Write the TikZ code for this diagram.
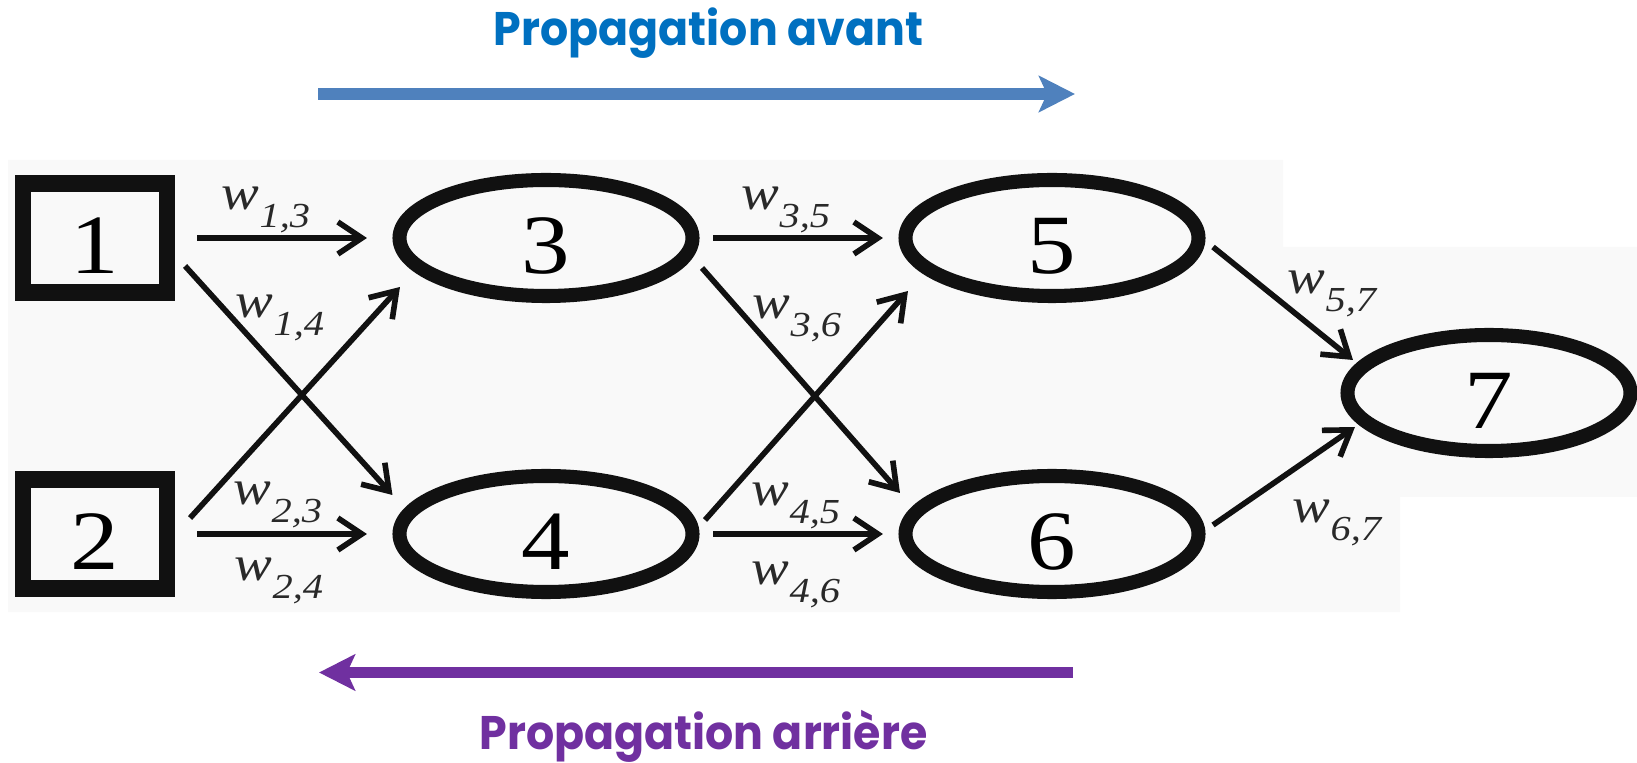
\documentclass[tikz,border=0pt]{standalone}
\usepackage{fontspec}
\usepackage{tikz}
\usetikzlibrary{arrows.meta,shapes.geometric}

\newfontfamily\netfont{Liberation Serif}[FakeStretch=1.15]
\newfontfamily\titlefont{Poppins}[FakeStretch=0.94]

\definecolor{fwdtext}{HTML}{0070C0}
\definecolor{fwdarrow}{HTML}{4F81BD}
\definecolor{backtext}{HTML}{7030A0}
\definecolor{backarrow}{HTML}{7030A0}
\definecolor{paper}{HTML}{F9F9F9}
\definecolor{ink}{HTML}{111111}

% weight label w_{i,j}
\newcommand{\wlab}[1]{{\fontsize{14}{14}\selectfont w}\raisebox{-5pt}{\fontsize{10}{10}\selectfont #1}}

\begin{document}
\begin{tikzpicture}[
        inputbox/.style={
            rectangle,
            draw=ink,
            line width=4.6pt,
            minimum width=1.44cm,
            minimum height=1.09cm,
            inner sep=0pt,
            text height=0.72cm,
            text depth=0pt,
            font=\netfont\fontsize{24}{24}\selectfont
        },
        neuron/.style={
            ellipse,
            draw=ink,
            line width=4pt,
            minimum width=2.93cm,
            minimum height=1.16cm,
            inner sep=0pt,
            text height=0.72cm,
            text depth=0pt,
            font=\netfont\fontsize{24}{24}\selectfont
        },
        wire/.style={
            -{Straight Barb[length=2.4mm,width=3.2mm]},
            draw=ink,
            line width=1.6pt
        },
        wlabel/.style={
            font=\netfont\itshape,
            text=ink!90,
            inner sep=0pt
        },
        bigarrow/.style={
            -{Stealth[length=3.6mm,width=3.6mm,inset=0.8mm]},
            line width=3.4pt
        },
        headline/.style={
            anchor=base,
            font=\titlefont\bfseries\fontsize{13.4}{16}\selectfont
        }
    ]

        \useasboundingbox (0,0) rectangle (16.37,7.62);

        \fill[paper] (0.08,6.02) -- (12.83,6.02) -- (12.83,5.15) -- (16.37,5.15)
            -- (16.37,2.65) -- (14.00,2.65) -- (14.00,1.50) -- (0.08,1.50) -- cycle;

        \node[inputbox] (n1) at (0.95,5.24) {1};
        \node[inputbox] (n2) at (0.95,2.28) {2};
        \node[neuron] (n3) at (5.46,5.24) {3};
        \node[neuron] (n4) at (5.46,2.28) {4};
        \node[neuron] (n5) at (10.52,5.24) {5};
        \node[neuron] (n6) at (10.52,2.28) {6};
        \node[neuron, minimum width=2.83cm] (n7) at (14.89,3.69) {7};

        \draw[wire] ([xshift=0.22cm]n1.east) -- ([xshift=-0.255cm]n3.west);
        \draw[wire] ([shift={(0.10,-0.28)}]n1.east) -- ([shift={(0,0.39)}]n4.west);
        \draw[wire] ([shift={(0.15,0.16)}]n2.east) -- ([shift={(0.075,-0.49)}]n3.west);
        \draw[wire] ([xshift=0.22cm]n2.east) -- ([xshift=-0.255cm]n4.west);
        \draw[wire] ([xshift=0.135cm]n3.east) -- ([xshift=-0.155cm]n5.west);
        \draw[wire] ([shift={(0.025,-0.30)}]n3.east) -- ([shift={(0.015,0.41)}]n6.west);
        \draw[wire] ([shift={(0.055,0.14)}]n4.east) -- ([shift={(0.095,-0.53)}]n5.west);
        \draw[wire] ([xshift=0.135cm]n4.east) -- ([xshift=-0.155cm]n6.west);
        \draw[wire] ([shift={(0.075,-0.09)}]n5.east) -- ([shift={(0.125,0.33)}]n7.west);
        \draw[wire] ([shift={(0.075,0.09)}]n6.east) -- ([shift={(0.145,-0.34)}]n7.west);

        \node[wlabel] (l13) at (2.66,5.52) {\wlab{1,3}};
        \node[wlabel] (l14) at (2.80,4.44) {\wlab{1,4}};
        \node[wlabel] (l23) at (2.78,2.57) {\wlab{2,3}};
        \node[wlabel] (l24) at (2.79,1.81) {\wlab{2,4}};
        \node[wlabel] (l35) at (7.86,5.52) {\wlab{3,5}};
        \node[wlabel] (l36) at (7.97,4.43) {\wlab{3,6}};
        \node[wlabel] (l45) at (7.96,2.56) {\wlab{4,5}};
        \node[wlabel] (l46) at (7.96,1.77) {\wlab{4,6}};
        \node[wlabel] (l57) at (13.32,4.68) {\wlab{5,7}};
        \node[wlabel] (l67) at (13.37,2.39) {\wlab{6,7}};

        % forward / backward passes
        \coordinate (fwdfrom) at (3.18,6.68);
        \coordinate (fwdto) at (10.75,6.68);
        \coordinate (backfrom) at (10.73,0.895);
        \coordinate (backto) at (3.19,0.895);

        \draw[bigarrow, fwdarrow] (fwdfrom) -- (fwdto);
        \draw[bigarrow, backarrow] (backfrom) -- (backto);

        \node[headline, text=fwdtext] (fwdtitle) at (7.085,7.16) {Propagation avant};
        \node[headline, text=backtext] (backtitle) at (7.035,0.13) {Propagation arrière};

    \end{tikzpicture}
\end{document}
